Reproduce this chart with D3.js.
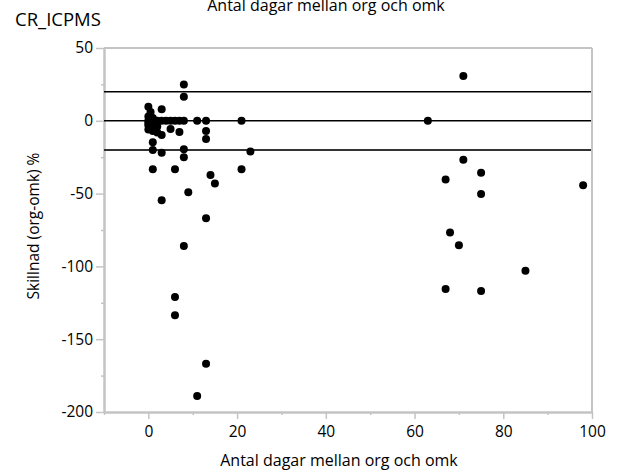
<!DOCTYPE html>
<html><head><meta charset="utf-8">
<script src="https://cdn.jsdelivr.net/npm/d3@7/dist/d3.min.js"></script>
<style>body{margin:0;background:#fff}svg{display:block}text{font-family:"Open Sans","Noto Sans",sans-serif}</style>
</head><body><svg id="c" width="624" height="472"></svg>
<script>
const xValues = [0,0.5,3,0,0,1,1,2,3,4,5,6,7,8,11,13,21,0,0,1,1,2,2,3,5,7,13,13,1,1,3,8,8,23,8,8,0,1,
  1,6,21,14,15,9,3,13,8,6,6,13,11,
  71,63,71,75,67,75,98,68,70,85,67,75];
const yValues = [9.7,6,8,3,0,0,2,0,0,0,0,0,0,0,0,0,0,-3,-6,-5,-7,-4,-8,-9.8,-5.6,-7.7,-7,-12.5,-14.8,-20,-22,-19.6,-25,-21,25,16.5,-1.5,-2,
  -33.3,-33.3,-33.3,-37.2,-43,-49,-54.6,-67,-86,-121,-133.6,-166.8,-189,
  30.8,0,-26.7,-35.6,-40.4,-50.3,-44.3,-76.8,-85.5,-103,-115.5,-116.9];
const refLines = [20,0,-20];
const xTicks = [0,20,40,60,80,100];
const yTicks = [50,0,-50,-100,-150,-200];
const titleText = "Antal dagar mellan org och omk";
const chartLabel = "CR_ICPMS";
const xLabel = "Antal dagar mellan org och omk";
const yLabel = "Skillnad (org-omk) %";

const svg = d3.select("#c");
const L=104, R=592, T=48, B=412;
const x = d3.scaleLinear().domain([-10,100]).range([L,R]);
const y = d3.scaleLinear().domain([-200,50]).range([B,T]);
const grey = "#c4c4c4";

// frame top/right
svg.append("line").attr("x1",L).attr("x2",R).attr("y1",T).attr("y2",T).attr("stroke",grey).attr("stroke-width",2);
svg.append("line").attr("x1",R).attr("x2",R).attr("y1",T).attr("y2",B).attr("stroke",grey).attr("stroke-width",2);

// axes
const xAxis = svg.append("g").attr("transform",`translate(0,${B})`)
  .call(d3.axisBottom(x).tickValues(xTicks).tickSize(7).tickSizeOuter(0).tickPadding(7));
const xMinor = svg.append("g").attr("transform",`translate(0,${B})`)
  .call(d3.axisBottom(x).tickValues(d3.range(-10,101,10).filter(v=>!xTicks.includes(v))).tickSize(3).tickFormat("").tickSizeOuter(0));
const yAxis = svg.append("g").attr("transform",`translate(${L},0)`)
  .call(d3.axisLeft(y).tickValues(yTicks).tickSize(8).tickSizeOuter(0).tickPadding(3).tickFormat(d=>d<0?"-"+Math.abs(d):d));
const yMinor = svg.append("g").attr("transform",`translate(${L},0)`)
  .call(d3.axisLeft(y).tickValues(d3.range(-175,50,50)).tickSize(3).tickFormat("").tickSizeOuter(0));
[xAxis,xMinor,yAxis,yMinor].forEach(g=>{
  g.selectAll(".domain").attr("stroke",grey).attr("stroke-width",2);
  g.selectAll(".tick line").attr("stroke",grey).attr("stroke-width",1.5);
  g.selectAll("text").attr("fill","#000").attr("font-size",15.5);
});

// reference lines
svg.selectAll(".ref").data(refLines).join("line")
  .attr("x1",L).attr("x2",R-1).attr("y1",d=>y(d)).attr("y2",d=>y(d))
  .attr("stroke",d=>d===-20?"#333":"#000").attr("stroke-width",d=>d===-20?2:1.6);

// points
svg.selectAll(".pt").data(xValues.map((v,i)=>[v,yValues[i]])).join("circle")
  .attr("cx",d=>x(d[0])).attr("cy",d=>y(d[1])).attr("r",4).attr("fill","#000");

// texts
svg.append("text").attr("x",326).attr("y",11).attr("text-anchor","middle").attr("font-size",16).text(titleText);
svg.append("text").attr("x",15).attr("y",26).attr("font-size",18.5).text(chartLabel);
svg.append("text").attr("x",339).attr("y",466).attr("text-anchor","middle").attr("font-size",16).text(xLabel);
svg.append("text").attr("transform","translate(39,226) rotate(-90)").attr("text-anchor","middle").attr("font-size",15.5).text(yLabel);
</script></body></html>
